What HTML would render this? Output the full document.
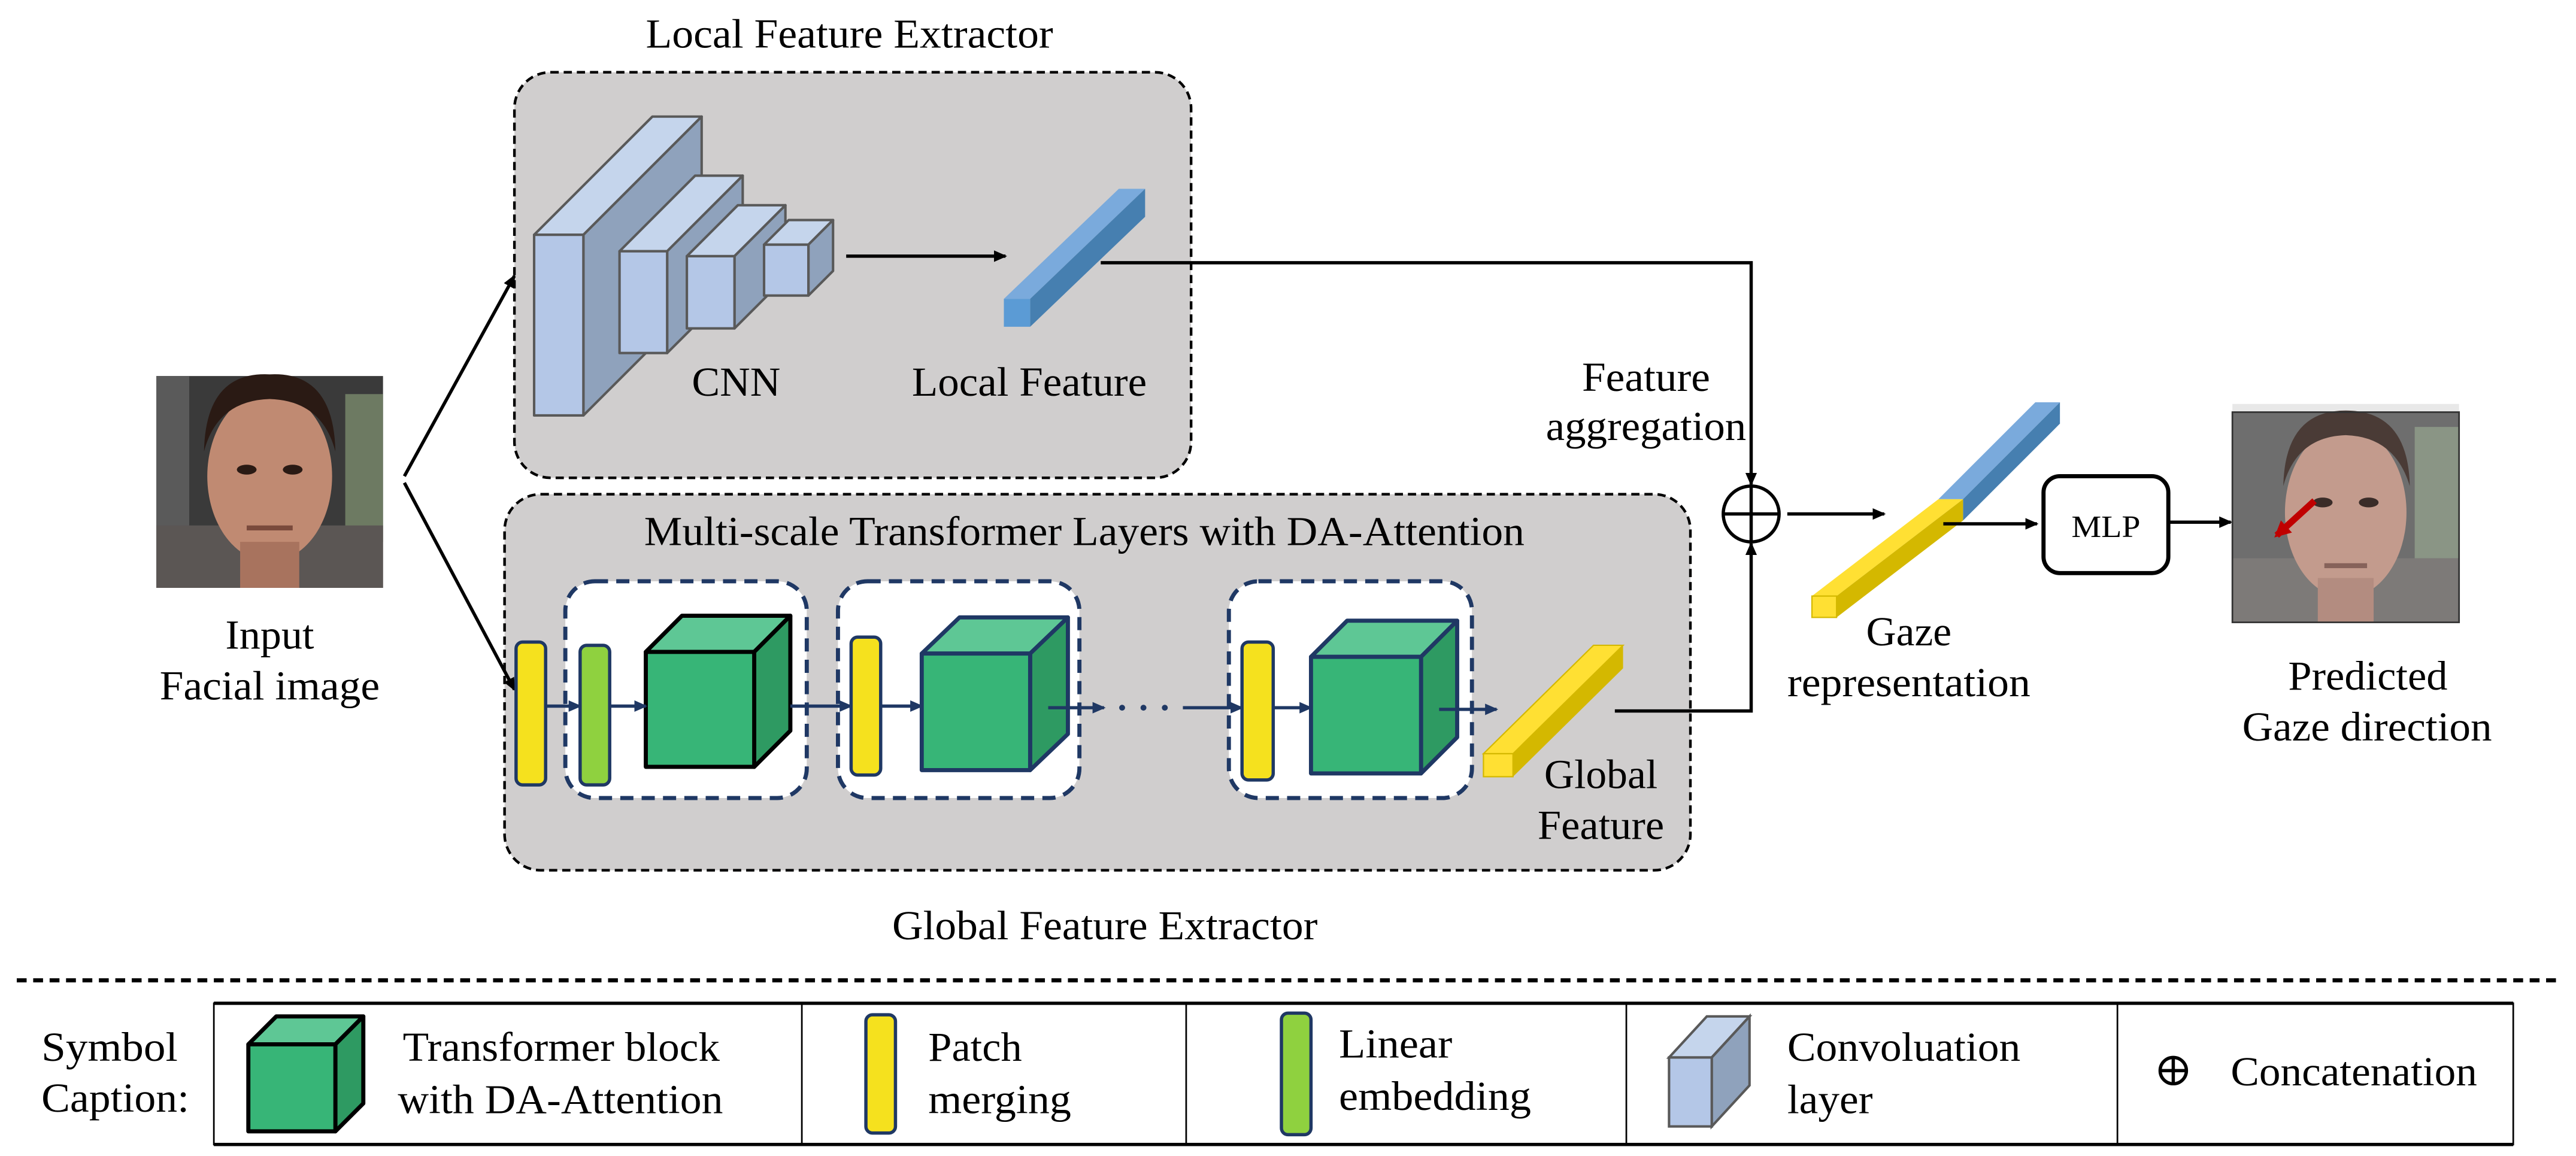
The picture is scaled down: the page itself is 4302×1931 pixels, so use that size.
<!DOCTYPE html>
<html><head><meta charset="utf-8"><style>
html,body{margin:0;padding:0;background:#fff;}
svg{display:block;}
svg text{font-family:"Liberation Serif","DejaVu Serif","Times New Roman",serif;}
</style></head><body>
<svg width="4302" height="1931" viewBox="0 0 1568 704" xmlns="http://www.w3.org/2000/svg" font-size="25">
<defs>
<marker id="ah" markerWidth="8" markerHeight="8" refX="7" refY="4" orient="auto" markerUnits="userSpaceOnUse"><path d="M0,0.5 L8,4 L0,7.5 z" fill="#000"/></marker>
<marker id="an" markerWidth="8" markerHeight="8" refX="7" refY="4" orient="auto" markerUnits="userSpaceOnUse"><path d="M0,0.5 L8,4 L0,7.5 z" fill="#1f3864"/></marker>
<marker id="ar" markerWidth="10" markerHeight="10" refX="8" refY="5" orient="auto" markerUnits="userSpaceOnUse"><path d="M0,0 L10,5 L0,10 z" fill="#c00000"/></marker>
</defs>

<text x="393" y="29" textLength="248" lengthAdjust="spacingAndGlyphs">Local Feature Extractor</text>
<text x="543" y="572" textLength="259" lengthAdjust="spacingAndGlyphs">Global Feature Extractor</text>

<rect x="313" y="44" width="412" height="247" rx="22" fill="#d0cece" stroke="#000" stroke-width="1.6" stroke-dasharray="5,3"/>
<rect x="307" y="301" width="722" height="229" rx="22" fill="#d0cece" stroke="#000" stroke-width="1.6" stroke-dasharray="5,3"/>
<text x="392" y="332" textLength="536" lengthAdjust="spacingAndGlyphs">Multi-scale Transformer Layers with DA-Attention</text>

<g stroke="#595959" stroke-width="1.5" stroke-linejoin="round">
 <polygon points="325,143 355,143 427,71 397,71" fill="#c5d5ec"/>
 <polygon points="355,143 427,71 427,181 355,253" fill="#8fa2bc"/>
 <rect x="325" y="143" width="30" height="110" fill="#b4c7e7"/>
 <polygon points="377,153 406,153 452,107 423,107" fill="#c5d5ec"/>
 <polygon points="406,153 452,107 452,169 406,215" fill="#8fa2bc"/>
 <rect x="377" y="153" width="29" height="62" fill="#b4c7e7"/>
 <polygon points="418,156 447,156 478,125 449,125" fill="#c5d5ec"/>
 <polygon points="447,156 478,125 478,169 447,200" fill="#8fa2bc"/>
 <rect x="418" y="156" width="29" height="44" fill="#b4c7e7"/>
 <polygon points="465,149 492,149 507,134 480,134" fill="#c5d5ec"/>
 <polygon points="492,149 507,134 507,165 492,180" fill="#8fa2bc"/>
 <rect x="465" y="149" width="27" height="31" fill="#b4c7e7"/>
</g>
<text x="421" y="241" textLength="54" lengthAdjust="spacingAndGlyphs">CNN</text>
<line x1="515" y1="156" x2="612" y2="156" stroke="#000" stroke-width="2" marker-end="url(#ah)"/>
<polygon points="611,182 627,182 697,115 681,115" fill="#7aaadc"/>
<polygon points="627,182 697,115 697,132 627,199" fill="#467fb0"/>
<rect x="611" y="182" width="16" height="17" fill="#5b9bd5"/>
<text x="555" y="241" textLength="143" lengthAdjust="spacingAndGlyphs">Local Feature</text>

<g>
 <rect x="95" y="229" width="138" height="129" fill="#3a3a3a"/>
 <rect x="95" y="229" width="20" height="129" fill="#5a5a5a"/>
 <rect x="210" y="240" width="23" height="90" fill="#6d7a62"/>
 <rect x="95" y="320" width="138" height="38" fill="#5b5654"/>
 <ellipse cx="164" cy="290" rx="38" ry="52" fill="#c08a72"/>
 <path d="M124,275 Q125,226 164,228 Q203,226 204,275 Q196,244 164,243 Q132,244 124,275z" fill="#2a1a14"/>
 <rect x="146" y="330" width="36" height="28" fill="#a8735e"/>
 <ellipse cx="150" cy="286" rx="6" ry="3" fill="#2a1a14"/>
 <ellipse cx="178" cy="286" rx="6" ry="3" fill="#2a1a14"/>
 <rect x="150" y="320" width="28" height="3" fill="#7a4a3c"/>
</g>
<text x="137" y="395" textLength="54" lengthAdjust="spacingAndGlyphs">Input</text>
<text x="97" y="426" textLength="134" lengthAdjust="spacingAndGlyphs">Facial image</text>
<line x1="246" y1="290" x2="313" y2="168" stroke="#000" stroke-width="2" marker-end="url(#ah)"/>
<line x1="246" y1="294" x2="313" y2="420" stroke="#000" stroke-width="2" marker-end="url(#ah)"/>

<g fill="#fff" stroke="#1f3864" stroke-width="2.5" stroke-dasharray="8,5">
 <rect x="344" y="354" width="147" height="132" rx="18"/>
 <rect x="510" y="354" width="147" height="132" rx="18"/>
 <rect x="748" y="354" width="148" height="132" rx="18"/>
</g>
<g stroke="#1f3864" stroke-width="2">
 <rect x="314" y="391" width="18" height="87" rx="4" fill="#f5e11e"/>
 <rect x="353" y="393" width="18" height="85" rx="4" fill="#8fd13f"/>
 <rect x="518" y="388" width="18" height="84" rx="4" fill="#f5e11e"/>
 <rect x="756" y="391" width="19" height="84" rx="4" fill="#f5e11e"/>
</g>
<g stroke-width="2.5" stroke-linejoin="round">
 <polygon points="393,397 459,397 481,375 415,375" fill="#5ec795" stroke="#000"/>
 <polygon points="459,397 481,375 481,445 459,467" fill="#2e9a62" stroke="#000"/>
 <rect x="393" y="397" width="66" height="70" fill="#37b577" stroke="#000"/>
 <polygon points="561,398 627,398 650,376 584,376" fill="#5ec795" stroke="#1f3864"/>
 <polygon points="627,398 650,376 650,447 627,469" fill="#2e9a62" stroke="#1f3864"/>
 <rect x="561" y="398" width="66" height="71" fill="#37b577" stroke="#1f3864"/>
 <polygon points="798,400 865,400 887,378 820,378" fill="#5ec795" stroke="#1f3864"/>
 <polygon points="865,400 887,378 887,449 865,471" fill="#2e9a62" stroke="#1f3864"/>
 <rect x="798" y="400" width="67" height="71" fill="#37b577" stroke="#1f3864"/>
</g>
<g stroke="#1f3864" stroke-width="2">
 <line x1="332" y1="430" x2="353" y2="430" marker-end="url(#an)"/>
 <line x1="371" y1="430" x2="393" y2="430" marker-end="url(#an)"/>
 <line x1="481" y1="430" x2="518" y2="430" marker-end="url(#an)"/>
 <line x1="536" y1="430" x2="561" y2="430" marker-end="url(#an)"/>
 <line x1="638" y1="431" x2="672" y2="431" marker-end="url(#an)"/>
 <line x1="720" y1="431" x2="756" y2="431" marker-end="url(#an)"/>
 <line x1="775" y1="431" x2="798" y2="431" marker-end="url(#an)"/>
 <line x1="876" y1="432" x2="911" y2="432" marker-end="url(#an)"/>
</g>
<g fill="#1f3864"><circle cx="683" cy="431" r="1.8"/><circle cx="696" cy="431" r="1.8"/><circle cx="709" cy="431" r="1.8"/></g>
<polygon points="903,459 921,459 988,393 970,393" fill="#ffe033" stroke="#d4b800" stroke-width="0.8"/>
<polygon points="921,459 988,393 988,407 921,473" fill="#d4b800"/>
<rect x="903" y="459" width="18" height="14" fill="#ffe033" stroke="#d4b800" stroke-width="0.8"/>
<text x="940" y="480" textLength="69" lengthAdjust="spacingAndGlyphs">Global</text>
<text x="936" y="511" textLength="77" lengthAdjust="spacingAndGlyphs">Feature</text>

<polyline points="670,160 1066,160 1066,295" fill="none" stroke="#000" stroke-width="2" marker-end="url(#ah)"/>
<polyline points="983,433 1066,433 1066,331" fill="none" stroke="#000" stroke-width="2" marker-end="url(#ah)"/>
<ellipse cx="1066" cy="313" rx="17" ry="17" fill="#fff" stroke="#000" stroke-width="2"/>
<line x1="1049" y1="313" x2="1083" y2="313" stroke="#000" stroke-width="2"/>
<line x1="1066" y1="296" x2="1066" y2="330" stroke="#000" stroke-width="2"/>
<text x="963" y="238" textLength="78" lengthAdjust="spacingAndGlyphs">Feature</text>
<text x="941" y="268" textLength="122" lengthAdjust="spacingAndGlyphs">aggregation</text>
<line x1="1088" y1="313" x2="1147" y2="313" stroke="#000" stroke-width="2" marker-end="url(#ah)"/>

<polygon points="1180,304 1195,304 1254,245 1239,245" fill="#7aaadc"/>
<polygon points="1195,304 1254,245 1254,258 1195,317" fill="#467fb0"/>
<polygon points="1103,363 1118,363 1195,304 1180,304" fill="#ffe033"/>
<polygon points="1118,363 1195,304 1195,317 1118,376" fill="#d4b800"/>
<rect x="1103" y="363" width="15" height="13" fill="#ffe033" stroke="#d4b800" stroke-width="0.8"/>
<text x="1136" y="393" textLength="52" lengthAdjust="spacingAndGlyphs">Gaze</text>
<text x="1088" y="424" textLength="148" lengthAdjust="spacingAndGlyphs">representation</text>
<line x1="1183" y1="319" x2="1240" y2="319" stroke="#000" stroke-width="2" marker-end="url(#ah)"/>
<rect x="1244" y="290" width="76" height="59" rx="10" fill="#fff" stroke="#000" stroke-width="2.5"/>
<text x="1261" y="327" font-size="19" textLength="42" lengthAdjust="spacingAndGlyphs">MLP</text>
<line x1="1320" y1="318" x2="1358" y2="318" stroke="#000" stroke-width="2" marker-end="url(#ah)"/>

<g>
 <rect x="1359" y="251" width="138" height="128" fill="#6e6e6e"/>
 <rect x="1359" y="246" width="138" height="5" fill="#e8e8e8"/>
 <rect x="1470" y="260" width="27" height="80" fill="#8a9585"/>
 <rect x="1359" y="340" width="138" height="39" fill="#7d7a78"/>
 <ellipse cx="1428" cy="312" rx="37" ry="52" fill="#c39b8d"/>
 <path d="M1390,296 Q1391,250 1428,250 Q1466,250 1467,296 Q1458,266 1428,265 Q1398,266 1390,296z" fill="#4a3b36"/>
 <rect x="1411" y="352" width="34" height="27" fill="#b38c80"/>
 <ellipse cx="1414" cy="306" rx="6" ry="3" fill="#3a2c28"/>
 <ellipse cx="1442" cy="306" rx="6" ry="3" fill="#3a2c28"/>
 <rect x="1415" y="343" width="26" height="3" fill="#86625a"/>
 <rect x="1359" y="251" width="138" height="128" fill="none" stroke="#333" stroke-width="1"/>
</g>
<line x1="1409" y1="305" x2="1386" y2="326" stroke="#c00000" stroke-width="4" marker-end="url(#ar)"/>
<text x="1393" y="420" textLength="97" lengthAdjust="spacingAndGlyphs">Predicted</text>
<text x="1365" y="451" textLength="152" lengthAdjust="spacingAndGlyphs">Gaze direction</text>

<line x1="10" y1="597" x2="1560" y2="597" stroke="#000" stroke-width="2.5" stroke-dasharray="6,4"/>

<text x="25" y="646" textLength="83" lengthAdjust="spacingAndGlyphs">Symbol</text>
<text x="25" y="677" textLength="90" lengthAdjust="spacingAndGlyphs">Caption:</text>
<rect x="130" y="611" width="1400" height="86" fill="#fff" stroke="#000" stroke-width="1"/>
<line x1="130" y1="611" x2="1530" y2="611" stroke="#000" stroke-width="2"/>
<line x1="130" y1="697" x2="1530" y2="697" stroke="#000" stroke-width="2"/>
<g stroke="#000" stroke-width="1">
 <line x1="488" y1="611" x2="488" y2="697"/><line x1="722" y1="611" x2="722" y2="697"/>
 <line x1="990" y1="611" x2="990" y2="697"/><line x1="1289" y1="611" x2="1289" y2="697"/>
</g>
<g stroke="#000" stroke-width="2.5" stroke-linejoin="round">
 <polygon points="151,636 204,636 221,619 168,619" fill="#5ec795"/>
 <polygon points="204,636 221,619 221,672 204,689" fill="#2e9a62"/>
 <rect x="151" y="636" width="53" height="53" fill="#37b577"/>
</g>
<text x="245" y="646" textLength="193" lengthAdjust="spacingAndGlyphs">Transformer block</text>
<text x="242" y="678" textLength="198" lengthAdjust="spacingAndGlyphs">with DA-Attention</text>
<rect x="527" y="618" width="18" height="72" rx="4" fill="#f5e11e" stroke="#1f3864" stroke-width="2"/>
<text x="565" y="646" textLength="57" lengthAdjust="spacingAndGlyphs">Patch</text>
<text x="565" y="678" textLength="87" lengthAdjust="spacingAndGlyphs">merging</text>
<rect x="780" y="617" width="18" height="74" rx="4" fill="#8fd13f" stroke="#1f3864" stroke-width="2"/>
<text x="815" y="644" textLength="69" lengthAdjust="spacingAndGlyphs">Linear</text>
<text x="815" y="676" textLength="117" lengthAdjust="spacingAndGlyphs">embedding</text>
<g stroke="#595959" stroke-width="1.5">
 <polygon points="1016,644 1042,644 1065,619 1039,619" fill="#c5d5ec"/>
 <polygon points="1042,644 1065,619 1065,661 1042,686" fill="#8fa2bc"/>
 <rect x="1016" y="644" width="26" height="42" fill="#b4c7e7"/>
</g>
<text x="1088" y="646" textLength="142" lengthAdjust="spacingAndGlyphs">Convoluation</text>
<text x="1088" y="678" textLength="52" lengthAdjust="spacingAndGlyphs">layer</text>
<circle cx="1323" cy="652" r="8" fill="#fff" stroke="#000" stroke-width="2"/>
<line x1="1315" y1="652" x2="1331" y2="652" stroke="#000" stroke-width="2"/>
<line x1="1323" y1="644" x2="1323" y2="660" stroke="#000" stroke-width="2"/>
<text x="1358" y="661" textLength="150" lengthAdjust="spacingAndGlyphs">Concatenation</text>
</svg>
</body></html>
